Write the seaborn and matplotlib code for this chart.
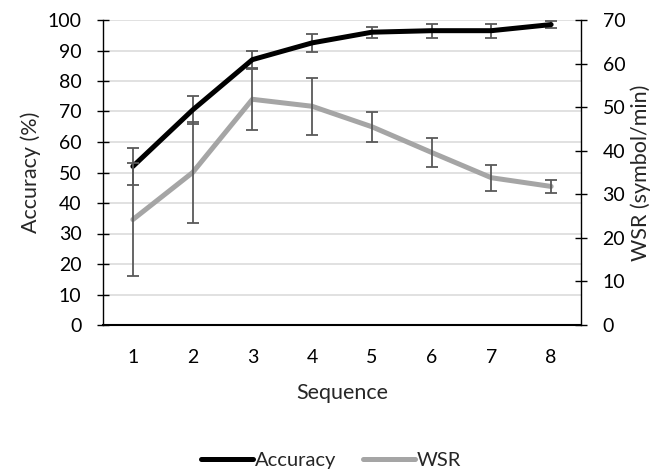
import numpy as np
import pandas as pd
import seaborn as sns
from matplotlib import pyplot as plt

## DATA ##
sequence = [1, 2, 3, 4, 5, 6, 7, 8]
accuracy = [52, 70.5, 87, 92.5, 96, 96.5, 96.5, 98.5]
accuracy_err = [6, 4.5, 2.8, 3, 1.8, 2.3, 2.3, 1.2]
wsr = [24.2, 35, 51.8, 50.2, 45.5, 39.6, 33.8, 31.8]
wsr_err = [13, 11.6, 7, 6.5, 3.5, 3.4, 3, 1.5]

## SETTINGS ##
sns.set_theme(style="white")
plt.rcParams['font.family'] = ['Lato', 'DejaVu Sans']
plt.rcParams['font.size'] = 14

df = pd.DataFrame({"Sequence": sequence, "Accuracy": accuracy,
                   "acc_err": accuracy_err, "WSR": wsr, "wsr_err": wsr_err})

fig = plt.figure(figsize=(6.62, 4.70), dpi=100)
ax = fig.add_axes([103 / 662, 1 - 325 / 470, 478 / 662, 305 / 470])
ax2 = ax.twinx()

err_color = "#595959"
# accuracy on the left axis
ax.errorbar(df["Sequence"], df["Accuracy"], yerr=df["acc_err"], fmt="none",
            ecolor=err_color, elinewidth=1.3, capsize=4.5, capthick=1.3, zorder=3)
sns.lineplot(data=df, x="Sequence", y="Accuracy", ax=ax, color="black",
             linewidth=3.6, label="Accuracy", legend=False, zorder=4)

# WSR on the right axis
ax2.errorbar(df["Sequence"], df["WSR"], yerr=df["wsr_err"], fmt="none",
             ecolor=err_color, elinewidth=1.3, capsize=4.5, capthick=1.3, zorder=3)
sns.lineplot(data=df, x="Sequence", y="WSR", ax=ax2, color="#A5A5A5",
             linewidth=3.6, label="WSR", legend=False, zorder=2)

ax.set_xlim(0.5, 8.5)
ax.set_ylim(0, 100)
ax2.set_ylim(0, 70)
ax.set_xticks(sequence)
ax.set_yticks(np.arange(0, 101, 10))
ax2.set_yticks(np.arange(0, 71, 10))
ax.yaxis.grid(True, color="#D9D9D9", linewidth=1.1)
ax.set_axisbelow(True)

for a in (ax, ax2):
    for s in a.spines.values():
        s.set_visible(False)
ax.spines["left"].set_visible(True)
ax.spines["bottom"].set_visible(True)
ax2.spines["right"].set_visible(True)
ax.spines["left"].set_color("black")
ax.spines["left"].set_linewidth(1.0)
ax.spines["bottom"].set_color("black")
ax.spines["bottom"].set_linewidth(1.5)
ax2.spines["right"].set_color("black")
ax2.spines["right"].set_linewidth(1.0)

ax.tick_params(axis="both", direction="inout", length=9, width=1,
               color="black", labelsize=14, labelcolor="black")
ax.tick_params(axis="x", pad=13)
ax.tick_params(axis="y", pad=11)
ax2.tick_params(axis="y", direction="inout", length=9, width=1,
                color="black", labelsize=14, labelcolor="black", pad=11)

ax.set_xlabel("Sequence", fontsize=15.5, labelpad=12)
ax.set_ylabel("Accuracy (%)", fontsize=15.5, labelpad=5)
ax2.set_ylabel("WSR (symbol/min)", fontsize=15.5, labelpad=4)

h1, l1 = ax.get_legend_handles_labels()
h2, l2 = ax2.get_legend_handles_labels()
fig.legend(h1 + h2, l1 + l2, loc="center", bbox_to_anchor=(0.5, 1 - 460 / 470),
           ncol=2, frameon=False, fontsize=14.5, handlelength=2.6,
           handletextpad=0.1, columnspacing=1.3)

plt.savefig("out.png", dpi=100)
plt.close('all')
